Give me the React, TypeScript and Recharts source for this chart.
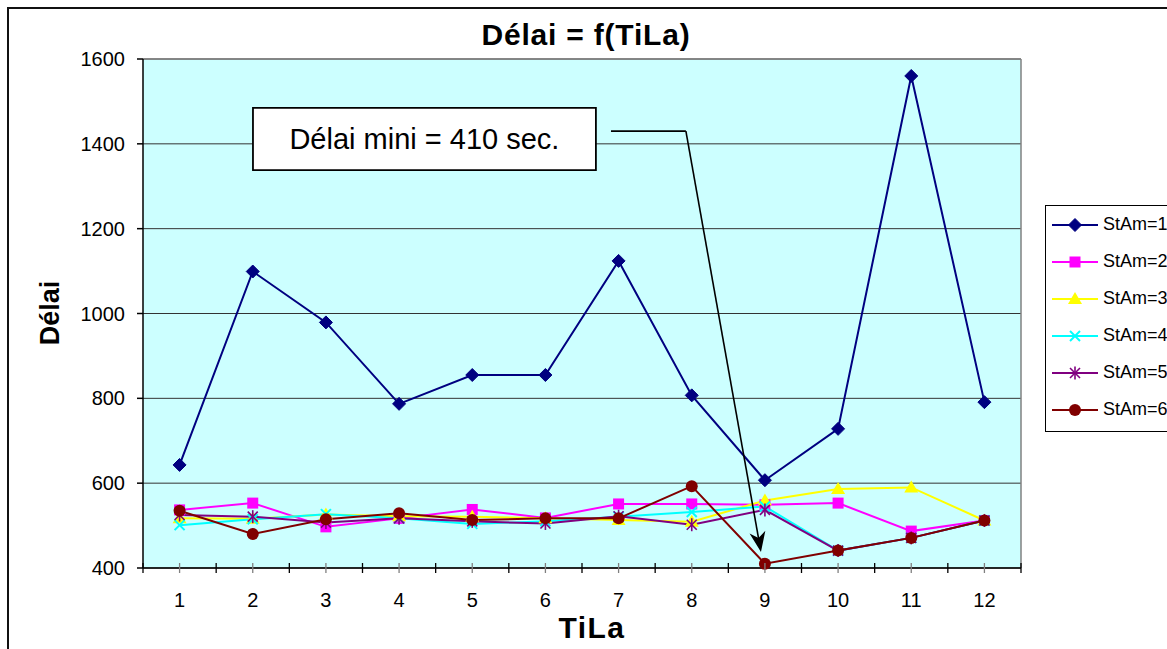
import React from 'react';
import {
  LineChart,
  Line,
  XAxis,
  YAxis,
  CartesianGrid,
  Legend,
  ReferenceArea,
  ReferenceLine,
} from 'recharts';

// ---- data ----
const tila = [1, 2, 3, 4, 5, 6, 7, 8, 9, 10, 11, 12];
const stam1 = [643, 1099, 979, 787, 855, 855, 1124, 807, 607, 728, 1560, 791];
const stam2 = [537, 553, 497, 517, 538, 518, 551, 551, 549, 553, 487, 512];
const stam3 = [517, 516, 526, 522, 521, 517, 513, 509, 559, 586, 590, 512];
const stam4 = [501, 515, 527, 517, 504, 510, 521, 532, 545, 441, 471, 512];
const stam5 = [525, 521, 507, 517, 510, 505, 522, 502, 537, 441, 471, 512];
const stam6 = [535, 480, 515, 529, 513, 517, 517, 593, 410, 441, 471, 512];
const seriesNames = ['StAm=1', 'StAm=2', 'StAm=3', 'StAm=4', 'StAm=5', 'StAm=6'];
const yTicks = [400, 600, 800, 1000, 1200, 1400, 1600];
const xTicks = [0.5, 1, 1.5, 2, 2.5, 3, 3.5, 4, 4.5, 5, 5.5, 6, 6.5, 7, 7.5, 8, 8.5, 9, 9.5, 10, 10.5, 11, 11.5, 12, 12.5];

const series = [
  { key: 's1', name: seriesNames[0], color: '#000080', shape: 'diamond', values: stam1 },
  { key: 's2', name: seriesNames[1], color: '#FF00FF', shape: 'square', values: stam2 },
  { key: 's3', name: seriesNames[2], color: '#FFFF00', shape: 'triangle', values: stam3 },
  { key: 's4', name: seriesNames[3], color: '#00FFFF', shape: 'x', values: stam4 },
  { key: 's5', name: seriesNames[4], color: '#800080', shape: 'star', values: stam5 },
  { key: 's6', name: seriesNames[5], color: '#800000', shape: 'circle', values: stam6 },
];

const data = tila.map((t, i) => {
  const row: Record<string, number> = { tila: t };
  series.forEach((s) => {
    row[s.key] = s.values[i];
  });
  return row;
});

const FONT = '"Liberation Sans", Arial, Helvetica, sans-serif';

function drawMarker(shape: string, color: string, cx: number, cy: number, key?: string) {
  switch (shape) {
    case 'diamond':
      return (
        <polygon
          key={key}
          points={`${cx},${cy - 6.5} ${cx + 6.5},${cy} ${cx},${cy + 6.5} ${cx - 6.5},${cy}`}
          fill={color}
          stroke={color}
          strokeWidth={1}
        />
      );
    case 'square':
      return <rect key={key} x={cx - 5.5} y={cy - 5.5} width={11} height={11} fill={color} />;
    case 'triangle':
      return (
        <polygon
          key={key}
          points={`${cx},${cy - 7} ${cx + 7},${cy + 5} ${cx - 7},${cy + 5}`}
          fill={color}
        />
      );
    case 'x':
      return (
        <g key={key} stroke={color} strokeWidth={2}>
          <line x1={cx - 5} y1={cy - 5} x2={cx + 5} y2={cy + 5} />
          <line x1={cx - 5} y1={cy + 5} x2={cx + 5} y2={cy - 5} />
        </g>
      );
    case 'star':
      return (
        <g key={key} stroke={color} strokeWidth={1.6}>
          <line x1={cx - 5} y1={cy - 5} x2={cx + 5} y2={cy + 5} />
          <line x1={cx - 5} y1={cy + 5} x2={cx + 5} y2={cy - 5} />
          <line x1={cx} y1={cy - 6.5} x2={cx} y2={cy + 6.5} />
        </g>
      );
    case 'circle':
    default:
      return <circle key={key} cx={cx} cy={cy} r={6} fill={color} />;
  }
}

const XTick = (props: any) => {
  const { x, y, payload } = props;
  const v = payload.value as number;
  const isCat = Number.isInteger(v);
  return (
    <g>
      <line x1={x} x2={x} y1={y - 5} y2={y + 5} stroke={isCat ? '#808080' : '#000'} strokeWidth={1.3} />
      {isCat && (
        <text x={x} y={y + 39} textAnchor="middle" fontFamily={FONT} fontSize={20} fill="#000">
          {v}
        </text>
      )}
    </g>
  );
};

const ArrowShape = (props: any) => {
  const { x1, y1, x2, y2 } = props;
  const dx = x2 - x1;
  const dy = y2 - y1;
  const len = Math.sqrt(dx * dx + dy * dy) || 1;
  const ux = dx / len;
  const uy = dy / len;
  const px = -uy;
  const py = ux;
  const L = 20;
  const W = 8;
  const bx = x2 - ux * L;
  const by = y2 - uy * L;
  const nx = x2 - ux * (L * 0.7);
  const ny = y2 - uy * (L * 0.7);
  return (
    <g>
      <line x1={x1} y1={y1} x2={nx} y2={ny} stroke="#000" strokeWidth={1.6} />
      <polygon
        points={`${x2},${y2} ${bx + px * W},${by + py * W} ${nx},${ny} ${bx - px * W},${by - py * W}`}
        fill="#000"
      />
    </g>
  );
};

const renderLegend = () => (
  <div
    style={{
      width: 140,
      height: 227,
      border: '1px solid #000',
      background: '#fff',
      boxSizing: 'border-box',
    }}
  >
    {series.map((s) => (
      <div key={s.key} style={{ height: 37, display: 'flex', alignItems: 'center' }}>
        <svg width={56} height={16} style={{ display: 'block' }}>
          <line x1={6} x2={52} y1={8} y2={8} stroke={s.color} strokeWidth={2} />
          {drawMarker(s.shape, s.color, 29, 8)}
        </svg>
        <span style={{ fontFamily: FONT, fontSize: 18, marginLeft: 1, color: '#000', whiteSpace: 'nowrap' }}>
          {s.name}
        </span>
      </div>
    ))}
  </div>
);

export default function App() {
  return (
    <div
      style={{
        position: 'absolute',
        left: 0,
        top: 0,
        width: 1167,
        height: 649,
        overflow: 'hidden',
        background: '#fff',
      }}
    >
      <div
        style={{
          position: 'absolute',
          left: 7,
          top: 7,
          width: 1200,
          height: 700,
          borderTop: '2px solid #111',
          borderLeft: '2px solid #111',
          boxSizing: 'border-box',
        }}
      />
      <LineChart
        width={1167}
        height={649}
        data={data}
        margin={{ top: 59, right: 146, left: 83, bottom: 41 }}
        style={{ position: 'absolute', left: 0, top: 0 }}
      >
        <CartesianGrid
          fill="#CCFFFF"
          fillOpacity={1}
          vertical={false}
          stroke="#333"
          strokeWidth={1}
        />
        <XAxis
          dataKey="tila"
          type="number"
          domain={[0.5, 12.5]}
          ticks={xTicks}
          interval={0}
          tickLine={false}
          tickSize={0}
          tickMargin={0}
          height={40}
          stroke="#000"
          strokeWidth={1.5}
          tick={<XTick />}
          allowDecimals
        />
        <YAxis
          type="number"
          domain={[400, 1600]}
          ticks={yTicks}
          interval={0}
          width={60}
          stroke="#000"
          strokeWidth={1.5}
          tickSize={6}
          tickMargin={12}
          tick={{ fontFamily: FONT, fontSize: 20, fill: '#000' }}
        />
        <ReferenceLine y={1600} stroke="#808080" strokeWidth={1.5} />
        <ReferenceLine x={12.5} stroke="#808080" strokeWidth={1.5} />
        {series.map((s) => (
          <Line
            key={s.key}
            dataKey={s.key}
            name={s.name}
            type="linear"
            stroke={s.color}
            strokeWidth={2}
            isAnimationActive={false}
            activeDot={false}
            dot={(p: any) => drawMarker(s.shape, s.color, p.cx, p.cy, `${s.key}-${p.index}`)}
          />
        ))}
        <ReferenceArea
          x1={2.003}
          x2={6.69}
          y1={1338}
          y2={1485}
          fill="#fff"
          fillOpacity={1}
          stroke="#000"
          strokeWidth={1.8}
          label={{
            value: 'Délai mini = 410 sec.',
            position: 'center',
            fontSize: 29,
            fontFamily: FONT,
            fill: '#000',
          }}
        />
        <ReferenceLine
          segment={[
            { x: 6.896, y: 1430 },
            { x: 7.92, y: 1430 },
          ]}
          stroke="#000"
          strokeWidth={1.6}
        />
        <ReferenceLine
          segment={[
            { x: 7.92, y: 1430 },
            { x: 8.946, y: 438 },
          ]}
          stroke="#000"
          strokeWidth={1.6}
          shape={ArrowShape}
        />
        <Legend
          layout="vertical"
          align="center"
          verticalAnchor="middle"
          verticalAlign="middle"
          content={renderLegend}
          wrapperStyle={{ left: 1045, top: 205, width: 150, height: 227 }}
        />
      </LineChart>
      <svg
        width={1167}
        height={649}
        style={{ position: 'absolute', left: 0, top: 0, pointerEvents: 'none' }}
      >
        <text x={586} y={45} textAnchor="middle" fontFamily={FONT} fontWeight="bold" fontSize={30} letterSpacing={0.8} fill="#000">
          Délai = f(TiLa)
        </text>
        <text x={592} y={638} textAnchor="middle" fontFamily={FONT} fontWeight="bold" fontSize={30} letterSpacing={1.5} fill="#000">
          TiLa
        </text>
        <text
          transform="translate(59,313) rotate(-90)"
          textAnchor="middle"
          fontFamily={FONT}
          fontWeight="bold"
          fontSize={27}
          fill="#000"
        >
          Délai
        </text>
      </svg>
    </div>
  );
}
